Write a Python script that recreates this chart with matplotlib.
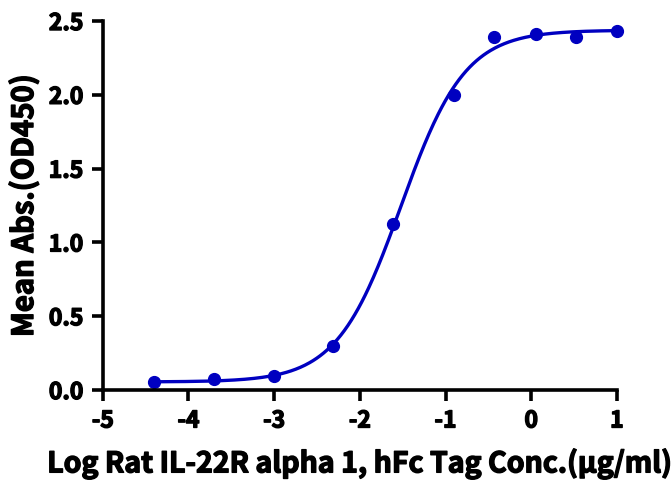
import numpy as np
import matplotlib
matplotlib.use('Agg')
import matplotlib.pyplot as plt
import matplotlib.patheffects as pe

log_conc = [-4.40, -3.70, -3.00, -2.31, -1.61, -0.90, -0.44, 0.05, 0.52, 1.00]
od450 = [0.056, 0.072, 0.095, 0.298, 1.125, 2.00, 2.39, 2.41, 2.39, 2.43]

xlabel = 'Log Rat IL-22R alpha 1, hFc Tag Conc.(μg/ml)'
ylabel = 'Mean Abs.(OD450)'
xticks = [-5, -4, -3, -2, -1, 0, 1]
yticks = [0.0, 0.5, 1.0, 1.5, 2.0, 2.5]


def four_pl(x, bottom, top, logec50, hill):
    return bottom + (top - bottom) / (1 + 10 ** ((logec50 - x) * hill))


# crude 4PL fit by grid search
x = np.array(log_conc)
y = np.array(od450)
best = None
for c in np.linspace(-2.0, -1.2, 81):
    for h in np.linspace(0.6, 2.0, 71):
        s = 1 / (1 + 10 ** ((c - x) * h))
        A = np.vstack([1 - s, s]).T
        coef, *_ = np.linalg.lstsq(A, y, rcond=None)
        err = np.sum((A @ coef - y) ** 2)
        if best is None or err < best[0]:
            best = (err, coef[0], coef[1], c, h)
_, b, t, c, h = best

plt.rcParams['font.family'] = ['Noto Sans CJK SC', 'DejaVu Sans']
plt.rcParams['font.weight'] = 'bold'
heavy = [pe.withStroke(linewidth=1.0, foreground='black')]

fig = plt.figure(figsize=(6.72, 4.83), dpi=100)
ax = fig.add_axes([0.153, 0.1925, 0.765, 0.764])

color = '#0000c0'
xs = np.linspace(min(log_conc), max(log_conc), 400)
ax.plot(xs, four_pl(xs, b, t, c, h), color=color, lw=2.4, clip_on=False)
ax.plot(log_conc, od450, 'o', color=color, ms=8.5, clip_on=False)

ax.set_xlim(-5, 1)
ax.set_ylim(0, 2.5)
ax.set_xticks(xticks)
ax.set_yticks(yticks)
ax.set_xticklabels([str(v) for v in xticks], fontweight='bold')
ax.set_yticklabels([f'{v:.1f}' for v in yticks], fontweight='bold')

for side in ['top', 'right']:
    ax.spines[side].set_visible(False)
for side in ['left', 'bottom']:
    ax.spines[side].set_linewidth(2.6)
ax.tick_params(width=2.6, length=8, labelsize=16.5, pad=6)
for lab in ax.get_xticklabels() + ax.get_yticklabels():
    lab.set_path_effects(heavy)

ax.set_xlabel(xlabel, fontsize=20.5, fontweight='bold', labelpad=12, path_effects=heavy)
ax.set_ylabel(ylabel, fontsize=21, fontweight='bold', labelpad=7, path_effects=heavy)

fig.savefig('out.png', dpi=100)
